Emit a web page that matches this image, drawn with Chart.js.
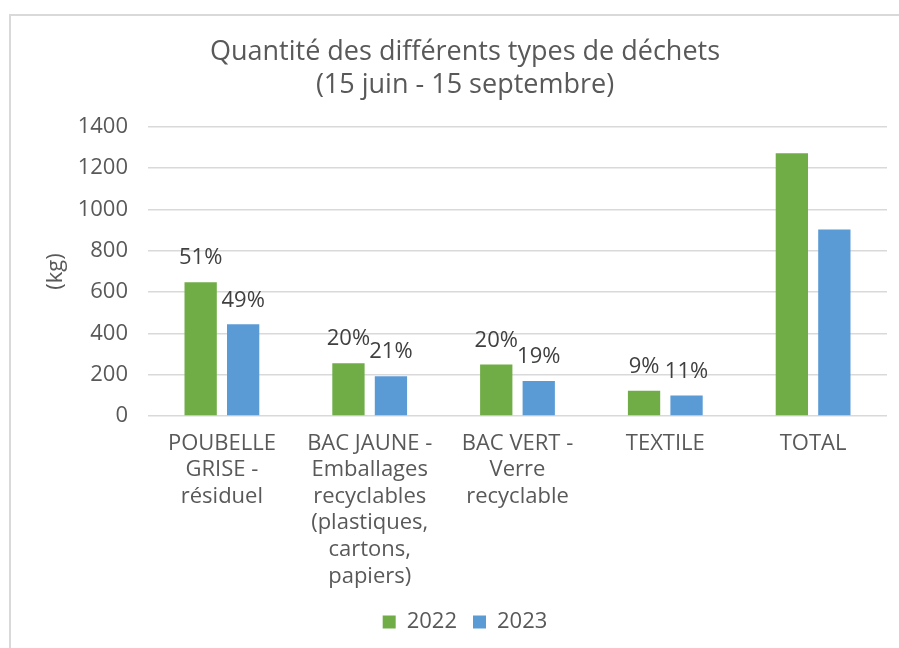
<!DOCTYPE html>
<html>
<head>
<meta charset="utf-8">
<script src="https://cdn.jsdelivr.net/npm/chart.js@4/dist/chart.umd.min.js"></script>
<style>
  html, body { margin: 0; padding: 0; background: #fff; overflow: hidden; }
  #box {
    position: absolute; left: 9px; top: 14px;
    width: 903px; height: 650px;
    border: 2px solid #d9d9d9; background: #fff;
  }
</style>
</head>
<body>
<div id="box"><canvas id="chart"></canvas></div>
<script>
// categories (multi-line labels as in the original)
const categories = [
  ['POUBELLE', 'GRISE -', 'résiduel'],
  ['BAC JAUNE -', 'Emballages', 'recyclables', '(plastiques,', 'cartons,', 'papiers)'],
  ['BAC VERT -', 'Verre', 'recyclable'],
  ['TEXTILE'],
  ['TOTAL']
];
const years = ['2022', '2023'];
const values2022 = [648, 256, 249, 122, 1272];
const values2023 = [444, 193, 169, 99, 903];
const pct2022 = ['51%', '20%', '20%', '9%', ''];
const pct2023 = ['49%', '21%', '19%', '11%', ''];
const yTicks = [0, 200, 400, 600, 800, 1000, 1200, 1400];

const GREY = '#595959';
const FONT = '"Open Sans", "Noto Sans", sans-serif';

// draws the percentage labels above the bars
const pctLabels = {
  id: 'pctLabels',
  afterDatasetsDraw(chart) {
    const ctx = chart.ctx;
    const lists = [pct2022, pct2023];
    ctx.save();
    ctx.font = '22px ' + FONT;
    ctx.fillStyle = '#404040';
    ctx.textAlign = 'center';
    ctx.textBaseline = 'middle';
    chart.data.datasets.forEach((ds, i) => {
      const meta = chart.getDatasetMeta(i);
      meta.data.forEach((bar, j) => {
        const txt = lists[i][j];
        if (txt) ctx.fillText(txt, bar.x, bar.y - 24);
      });
    });
    ctx.restore();
  }
};

const ctx = document.getElementById('chart').getContext('2d');
const chart = new Chart(ctx, {
  type: 'bar',
  data: {
    labels: categories,
    datasets: [{
      label: years[0],
      data: values2022,
      backgroundColor: '#70AD47',
      barPercentage: 0.76,
      categoryPercentage: 0.575
    }, {
      label: years[1],
      data: values2023,
      backgroundColor: '#5B9BD5',
      barPercentage: 0.76,
      categoryPercentage: 0.575
    }]
  },
  options: {
    responsive: true,
    maintainAspectRatio: false,
    animation: false,
    layout: { padding: { left: 32, right: 27, top: 0, bottom: 23 } },
    plugins: {
      title: {
        display: true,
        text: ['Quantité des différents types de déchets', '(15 juin - 15 septembre)'],
        color: GREY,
        font: { family: FONT, size: 27, weight: 'normal', lineHeight: 1.22 },
        padding: { top: 20, bottom: 25 }
      },
      legend: {
        position: 'bottom',
        labels: {
          color: GREY,
          font: { family: FONT, size: 22 },
          boxWidth: 13,
          boxHeight: 13,
          padding: 16
        }
      },
      tooltip: { enabled: false }
    },
    scales: {
      x: {
        afterFit(scale) { scale.height = 179; },
        grid: { display: false },
        border: { display: false },
        ticks: {
          color: GREY,
          font: { family: FONT, size: 22, lineHeight: 1.21 },
          maxRotation: 0,
          autoSkip: false,
          padding: 6
        }
      },
      y: {
        min: 0,
        max: 1400,
        afterBuildTicks(scale) {
          scale.ticks = yTicks.map(v => ({ value: v }));
        },
        afterFit(scale) { scale.width = 105; },
        grid: { color: '#d9d9d9', lineWidth: 1.5, drawTicks: false },
        border: { display: false },
        ticks: {
          color: GREY,
          font: { family: FONT, size: 22 },
          padding: 20,
          callback: v => String(v)
        },
        title: {
          display: true,
          text: '(kg)',
          color: GREY,
          font: { family: FONT, size: 22, lineHeight: 1.2 },
          padding: { top: 0, bottom: 0 }
        }
      }
    }
  },
  plugins: [pctLabels]
});
</script>
</body>
</html>
